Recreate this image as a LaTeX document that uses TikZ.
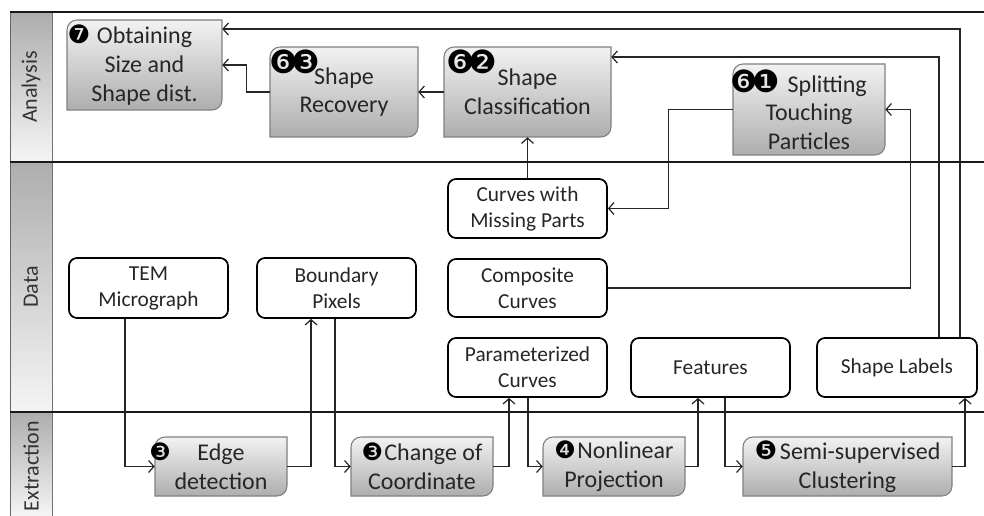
\documentclass[tikz,border=0pt]{standalone}
\usepackage{fontspec}
\setmainfont{Carlito}
\newfontfamily\dgfont{DejaVu Sans}
\usetikzlibrary{arrows.meta}
\newcommand\bdg[2][13]{{\fontsize{#1}{#1}\selectfont\dgfont\color{black}#2}}
\newcommand\bpair[3][17]{{\fontsize{#1}{#1}\selectfont\dgfont\color{black}#2\kern-0.17em\rule[0.27em]{0.14em}{0.12em}\kern-0.17em#3}}
\newcommand\mkg[6]{%
  \path[gfill] (#2,#5) -- (#2,{#3+10}) arc[start angle=180,end angle=90,radius=7.5pt] -- (#4,#3) -- (#4,{#5-10}) arc[start angle=0,end angle=-90,radius=7.5pt] -- cycle;
  \node[gtext, minimum width={(#4-#2)*0.75pt}, minimum height={(#5-#3)*0.75pt}] (#1) at ({(#2+#4)/2},{(#3+#5)/2}) {#6};}
\newcommand\mkd[6]{%
  \node[datab, minimum width={(#4-#2)*0.75pt}, minimum height={(#5-#3)*0.75pt}] (#1) at ({(#2+#4)/2},{(#3+#5)/2}) {#6};}
\begin{document}
\begin{tikzpicture}[x=0.75pt,y=-0.75pt,
  conn/.style={draw=black!85, line width=0.9pt, -{Straight Barb[length=4pt,width=9pt,line width=0.9pt]}},
  datab/.style={draw=black, line width=1.3pt, rounded corners=6pt, fill=white, inner sep=0pt, align=center, font=\fontsize{16}{19.5}\selectfont, text=black!85},
  gtext/.style={inner sep=0pt, align=center, font=\fontsize{18}{21.5}\selectfont, text=black!85},
  gfill/.style={draw=black!50, line width=0.8pt, top color=black!5, bottom color=black!32},
  lane/.style={draw=black!60, line width=0.6pt, top color=black!32, bottom color=black!4},
  lanetext/.style={rotate=90, font=\fontsize{16.5}{16.5}\selectfont, text=black!80, inner sep=0pt},
  sep/.style={line width=1.8pt, draw=black!90}]
\useasboundingbox (0,0) rectangle (984,516);
\fill[white] (0,0) rectangle (984,516);
% lanes
\path[lane] (10,12) rectangle (52,162);
\path[lane] (10,162) rectangle (52,412);
\path[lane] (10,412) rectangle (52,516);
\draw[black!55, line width=0.6pt] (52,12) -- (52,516);
\draw[sep] (10,12) -- (984,12);
\draw[sep] (10,162) -- (984,162);
\draw[sep] (10,412) -- (984,412);
\node[lanetext] (la) at (31,87) {Analysis};
\node[lanetext] (ld) at (31,287) {Data};
\node[lanetext] (le) at (31,466) {Extraction};
% analysis boxes
\mkg{obt}{67}{20}{222}{110}{\llap{\bdg[19]{❼}\hspace{5pt}}Obtaining\\Size and\\Shape dist.}
\mkg{rec}{270}{47}{418}{137}{Shape\\Recovery}
\mkg{cls}{444}{47}{611}{137}{Shape\\Classification}
\mkg{spl}{733}{64}{885}{155}{\llap{\bpair[23]{❻}{❶}\hspace{6pt}}\makebox[32pt][l]{Splitting}\\Touching\\Particles}
\node[inner sep=0pt] (b63) at (295,62) {\bpair[24]{❻}{❸}};
\node[inner sep=0pt] (b62) at (472,62) {\bpair[24]{❻}{❷}};
% data boxes
\mkd{cmp}{448}{179}{607}{238}{Curves with\\Missing Parts}
\mkd{com}{448}{259}{607}{317}{Composite\\Curves}
\mkd{par}{448}{338}{607}{397}{Parameterized\\Curves}
\mkd{fea}{631}{338}{790}{397}{Features}
\mkd{lab}{817}{338}{977}{397}{Shape Labels}
\mkd{tem}{69}{258}{228}{318}{TEM\\Micrograph}
\mkd{bnd}{257}{258}{416}{318}{Boundary\\Pixels}
% extraction boxes
\mkg{edg}{155}{437}{287}{496}{\llap{\bdg[18]{❸}\hspace{20pt}}Edge\\detection}
\mkg{chg}{351}{437}{493}{496}{\bdg[18]{❸}\hspace{1pt}Change of\\Coordinate}
\mkg{non}{543}{437}{685}{496}{\bdg[18]{❹}\hspace{1pt}Nonlinear\\Projection}
\mkg{sem}{743}{437}{952}{496}{\bdg[19]{❺}\hspace{2pt}Semi-supervised\\Clustering}
% connectors
\draw[conn] ([xshift=-17.6pt]tem.south) |- (edg.west);
\draw[conn] (edg.east) -| ([xshift=-19.1pt]bnd.south);
\draw[conn] ([xshift=-1.1pt]bnd.south) |- (chg.west);
\draw[conn] (chg.east) -| ([xshift=-13.9pt]par.south);
\draw[conn] ([xshift=0.4pt]par.south) |- (non.west);
\draw[conn] (non.east) -| ([xshift=-9.4pt]fea.south);
\draw[conn] ([xshift=10.9pt]fea.south) |- (sem.west);
\draw[conn] (sem.east) -| ([xshift=51pt]lab.south);
\draw[conn] (cmp.north) -- (cls.south);
\draw[conn] (spl.west) -- ++(-64,0) |- (cmp.east);
\draw[conn] (com.east) -- ++(303,0) |- (spl.east);
\draw[conn] ([xshift=31.5pt]lab.north) |- ([yshift=26.25pt]cls.east);
\draw[conn] ([xshift=47.25pt]lab.north) |- ([yshift=27pt]obt.east);
\draw[conn] (cls.west) -- (rec.east);
\draw[conn] (rec.west) -- ++(-23,0) |- (obt.east);
\end{tikzpicture}
\end{document}
